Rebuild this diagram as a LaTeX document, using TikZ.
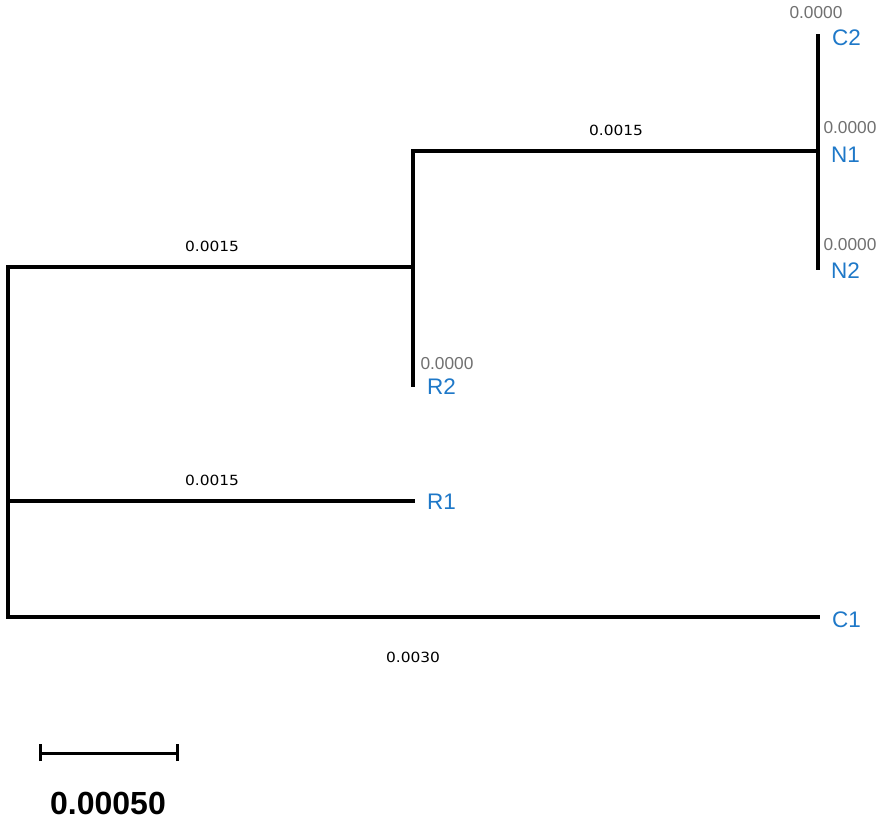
\documentclass[tikz,border=0pt]{standalone}
\usepackage{fontspec}
\setmainfont{Liberation Sans}
\newfontfamily\brfont{DejaVu Sans}
\usepackage{graphicx}
\definecolor{leafblue}{RGB}{30,120,200}
\definecolor{lengrey}{RGB}{112,112,112}
\tikzset{
  branch/.style={line width=3.3pt, line cap=rect},
  leaf/.style={anchor=west, inner sep=0pt, text=leafblue, font=\fontsize{22.5}{24}\selectfont},
  zero/.style={inner sep=0pt, text=lengrey, font=\fontsize{17.3}{19}\selectfont},
  blen/.style={inner sep=0pt, text=black, font=\brfont\fontsize{14}{16}\selectfont},
  scalelab/.style={inner sep=0pt, font=\bfseries\fontsize{32}{34}\selectfont}
}
\begin{document}
\begin{tikzpicture}[x=1pt,y=-1pt]
\useasboundingbox (0,0) rectangle (886,822);
% internal junctions
\coordinate (rootT) at (8,267);
\coordinate (rootM) at (8,501);
\coordinate (rootB) at (8,617);
\coordinate (aL) at (413,267);
\coordinate (aT) at (413,151);
\coordinate (bL) at (818,151);
% leaf tips
\coordinate (tC2) at (818,36);
\coordinate (tN1) at (818,151);
\coordinate (tN2) at (818,268);
\coordinate (tR2) at (413,385);
\coordinate (tR1) at (413,501);
\coordinate (tC1) at (818,617);
% branches
\draw[branch] (rootT) -- (rootB);
\draw[branch] (rootT) -- (aL);
\draw[branch] (aT) -- (tR2);
\draw[branch] (aT) -- (bL);
\draw[branch] (tC2) -- (tN2);
\draw[branch] (rootM) -- (tR1);
\draw[branch] (rootB) -- (tC1);
% leaf labels
\node[leaf] (C2) at (832,38) {C2};
\node[leaf] (N1) at (831,155) {N1};
\node[leaf] (N2) at (831,271) {N2};
\node[leaf] (R2) at (427,387) {R2};
\node[leaf] (R1) at (427,502) {R1};
\node[leaf] (C1) at (832,620) {C1};
% zero lengths
\node[zero] (z1) at (816,13) {0.0000};
\node[zero] (z2) at (850,128) {0.0000};
\node[zero] (z3) at (850,245) {0.0000};
\node[zero] (z4) at (447,364) {0.0000};
% branch lengths
\node[blen] (b1) at (212,246) {\scalebox{1.1}[1]{0.0015}};
\node[blen] (b2) at (616,130) {\scalebox{1.1}[1]{0.0015}};
\node[blen] (b3) at (212,480) {\scalebox{1.1}[1]{0.0015}};
\node[blen] (b4) at (413,657) {\scalebox{1.1}[1]{0.0030}};
% scale bar
\coordinate (sL) at (40,753);
\coordinate (sR) at (177,753);
\draw[line width=3pt] (sL) -- (sR);
\draw[line width=3pt] ([yshift=-8]sL) -- ([yshift=9]sL);
\draw[line width=3pt] ([yshift=-8]sR) -- ([yshift=9]sR);
\node[scalelab] (sc) at (108,803) {0.00050};
\end{tikzpicture}
\end{document}
